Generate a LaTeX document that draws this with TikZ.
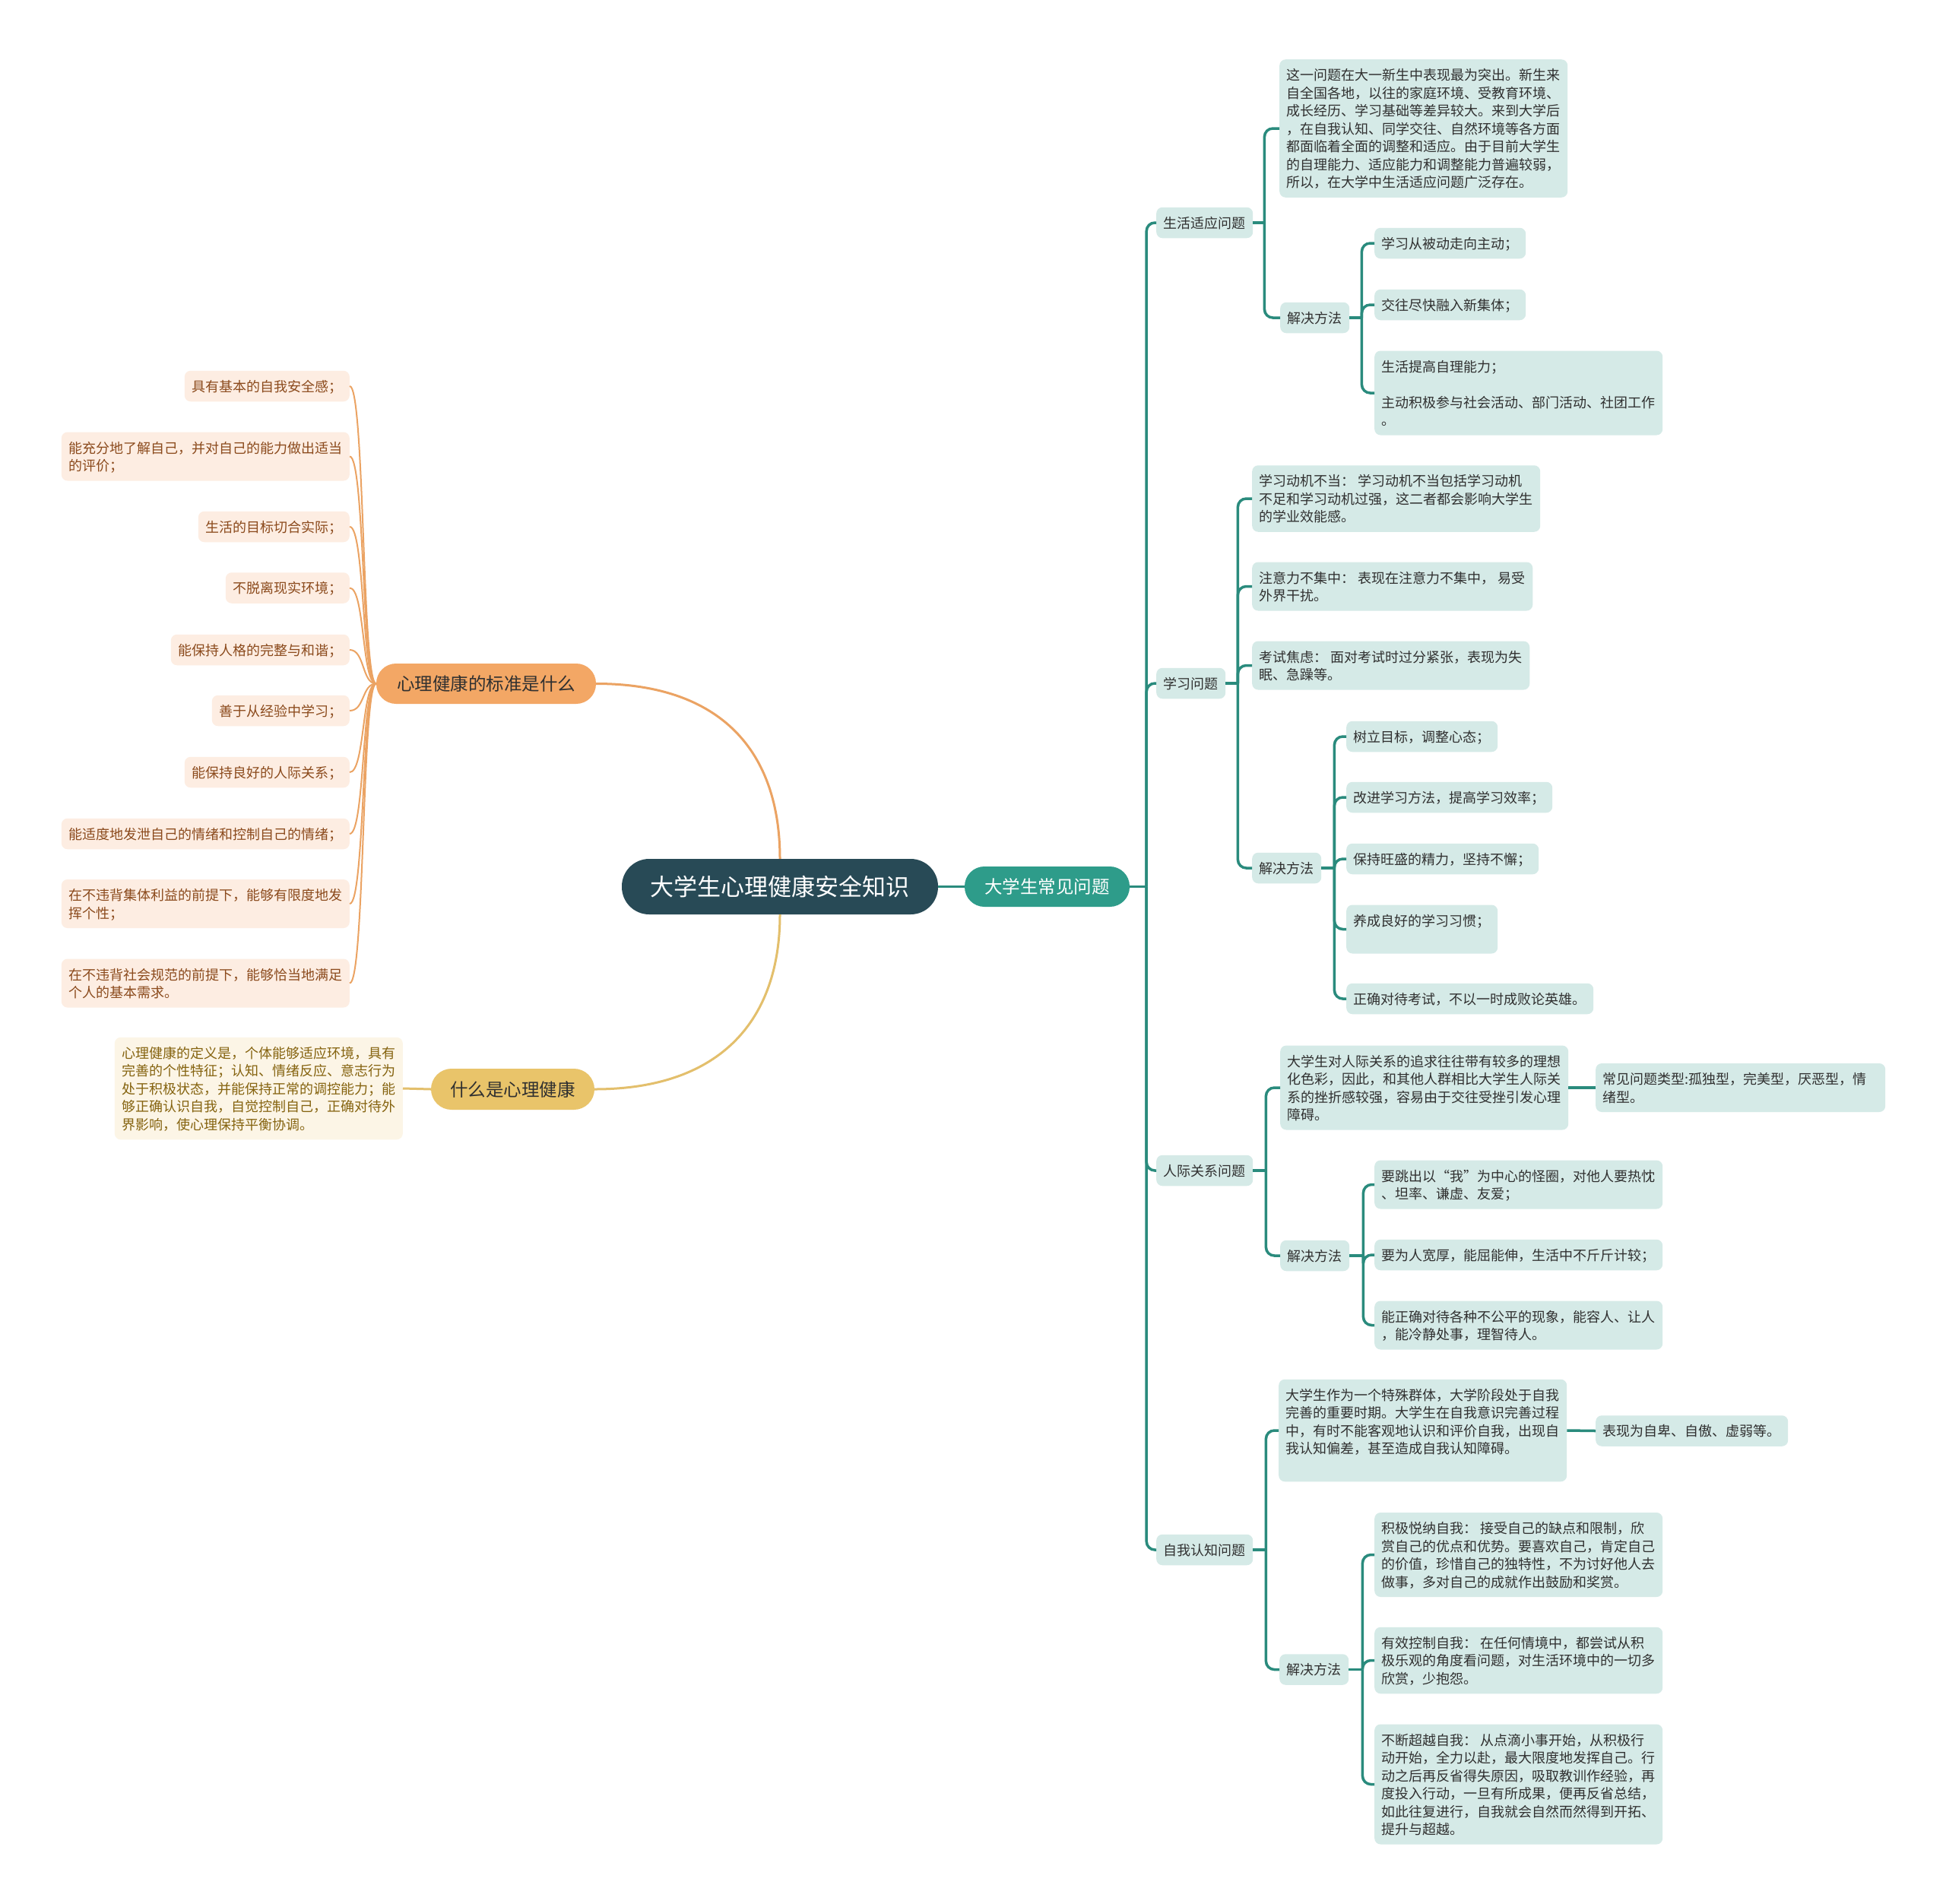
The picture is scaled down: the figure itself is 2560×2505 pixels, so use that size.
\documentclass[tikz,border=0pt]{standalone}
\usepackage{fontspec}
\setmainfont{Noto Sans CJK SC}
\definecolor{cdark}{HTML}{284A56}
\definecolor{cteal}{HTML}{2E9C8A}
\definecolor{cline}{HTML}{2A8B7D}
\definecolor{cleaf}{HTML}{D5EAE7}
\definecolor{ctext}{HTML}{303030}
\definecolor{corange}{HTML}{F3A765}
\definecolor{coline}{HTML}{EBA363}
\definecolor{coleaf}{HTML}{FDEDE2}
\definecolor{cotext}{HTML}{8B4A1C}
\definecolor{cyellow}{HTML}{E9C46A}
\definecolor{cyline}{HTML}{E3BF6C}
\definecolor{cyleaf}{HTML}{FCF5E6}
\definecolor{cytext}{HTML}{85630F}
\newcommand\sst{\rule[-4.5pt]{0pt}{23.5pt}}
\newcommand\lbk{\\\sst}
\tikzset{
  tbox/.style={fill=cleaf, text=ctext, rounded corners=8pt, inner xsep=9.5pt, inner ysep=8.5pt, align=left, font=\fontsize{18}{23.5}\selectfont},
  obox/.style={tbox, fill=coleaf, text=cotext},
  ybox/.style={tbox, fill=cyleaf, text=cytext},
  pill/.style={inner sep=0pt, font=\fontsize{23.5}{28}\selectfont},
  tline/.style={draw=cline, line width=3.5pt},
  tcorner/.style={tline, rounded corners=11pt},
  othin/.style={draw=coline, line width=2pt},
  oline/.style={draw=coline, line width=3pt},
  yline/.style={draw=cyline, line width=3pt}
}
\begin{document}
\begin{tikzpicture}[x=1pt,y=-1pt]
\useasboundingbox[fill=white] (0,0) rectangle (2560,2505);

% ---------- right side ----------
\node[tbox, anchor=west] (l1) at (1521,293) {\sst 生活适应问题};
\node[tbox, anchor=west] (l2) at (1521,899) {\sst 学习问题};
\node[tbox, anchor=west] (l3) at (1521,1540) {\sst 人际关系问题};
\node[tbox, anchor=west] (l4) at (1521,2039) {\sst 自我认知问题};

\node[tbox, anchor=west] (a1) at (1683,169) {\sst 这一问题在大一新生中表现最为突出。新生来\lbk 自全国各地，以往的家庭环境、受教育环境、\lbk 成长经历、学习基础等差异较大。来到大学后\lbk ，在自我认知、同学交往、自然环境等各方面\lbk 都面临着全面的调整和适应。由于目前大学生\lbk 的自理能力、适应能力和调整能力普遍较弱，\lbk 所以，在大学中生活适应问题广泛存在。};
\node[tbox, anchor=west] (a2) at (1684,418) {\sst 解决方法};
\node[tbox, anchor=west] (a21) at (1808,320) {\sst 学习从被动走向主动；};
\node[tbox, anchor=west] (a22) at (1808,401) {\sst 交往尽快融入新集体；};
\node[tbox, anchor=west] (a23) at (1808,517) {\sst 生活提高自理能力；\lbk\lbk 主动积极参与社会活动、部门活动、社团工作\lbk 。};

\node[tbox, anchor=west] (b1) at (1647,656) {\sst 学习动机不当： 学习动机不当包括学习动机\lbk 不足和学习动机过强，这二者都会影响大学生\lbk 的学业效能感。};
\node[tbox, anchor=west] (b2) at (1647,771.5) {\sst 注意力不集中： 表现在注意力不集中， 易受\lbk 外界干扰。};
\node[tbox, anchor=west] (b3) at (1647,875.5) {\sst 考试焦虑： 面对考试时过分紧张，表现为失\lbk 眠、急躁等。};
\node[tbox, anchor=west] (b4) at (1647,1142) {\sst 解决方法};
\node[tbox, anchor=west] (b41) at (1771,969) {\sst 树立目标，调整心态；};
\node[tbox, anchor=west] (b42) at (1771,1049) {\sst 改进学习方法，提高学习效率；};
\node[tbox, anchor=west] (b43) at (1771,1130) {\sst 保持旺盛的精力，坚持不懈；};
\node[tbox, anchor=west] (b44) at (1771,1222.5) {\sst 养成良好的学习习惯；\lbk};
\node[tbox, anchor=west] (b45) at (1771,1314) {\sst 正确对待考试，不以一时成败论英雄。};

\node[tbox, anchor=west] (c1) at (1684,1431) {\sst 大学生对人际关系的追求往往带有较多的理想\lbk 化色彩，因此，和其他人群相比大学生人际关\lbk 系的挫折感较强，容易由于交往受挫引发心理\lbk 障碍。};
\node[tbox, anchor=west, text width=362pt] (c11) at (2099,1431) {\sst 常见问题类型:孤独型，完美型，厌恶型，情\lbk 绪型。};
\node[tbox, anchor=west] (c2) at (1684,1652) {\sst 解决方法};
\node[tbox, anchor=west] (c21) at (1808,1558.5) {\sst 要跳出以“我”为中心的怪圈，对他人要热忱\lbk 、坦率、谦虚、友爱；};
\node[tbox, anchor=west] (c22) at (1808,1651) {\sst 要为人宽厚，能屈能伸，生活中不斤斤计较；};
\node[tbox, anchor=west] (c23) at (1808,1743.5) {\sst 能正确对待各种不公平的现象，能容人、让人\lbk ，能冷静处事，理智待人。};

\node[tbox, anchor=west] (d1) at (1682,1882) {\sst 大学生作为一个特殊群体，大学阶段处于自我\lbk 完善的重要时期。大学生在自我意识完善过程\lbk 中，有时不能客观地认识和评价自我，出现自\lbk 我认知偏差，甚至造成自我认知障碍。\lbk};
\node[tbox, anchor=west] (d11) at (2099,1882.5) {\sst 表现为自卑、自傲、虚弱等。};
\node[tbox, anchor=west] (d2) at (1683,2196.5) {\sst 解决方法};
\node[tbox, anchor=west] (d21) at (1808,2045.5) {\sst 积极悦纳自我： 接受自己的缺点和限制，欣\lbk 赏自己的优点和优势。要喜欢自己，肯定自己\lbk 的价值，珍惜自己的独特性，不为讨好他人去\lbk 做事，多对自己的成就作出鼓励和奖赏。};
\node[tbox, anchor=west] (d22) at (1808,2184.5) {\sst 有效控制自我： 在任何情境中，都尝试从积\lbk 极乐观的角度看问题，对生活环境中的一切多\lbk 欣赏，少抱怨。};
\node[tbox, anchor=west] (d23) at (1808,2347.5) {\sst 不断超越自我： 从点滴小事开始，从积极行\lbk 动开始，全力以赴，最大限度地发挥自己。行\lbk 动之后再反省得失原因，吸取教训作经验，再\lbk 度投入行动，一旦有所成果，便再反省总结，\lbk 如此往复进行，自我就会自然而然得到开拓、\lbk 提升与超越。};

% ---------- central ----------
\node[pill, fill=cdark, text=white, rounded corners=36pt, minimum width=416pt, minimum height=73pt, font=\fontsize{31}{36}\selectfont] (root) at (1026,1166.5) {大学生心理健康安全知识};
\node[pill, fill=cteal, text=white, rounded corners=26pt, minimum width=217pt, minimum height=53pt] (t) at (1377.5,1166.5) {大学生常见问题};
\node[pill, fill=corange, text=ctext, rounded corners=26pt, minimum width=289pt, minimum height=53pt] (o) at (639.5,899.5) {心理健康的标准是什么};
\node[pill, fill=cyellow, text=ctext, rounded corners=27pt, minimum width=215pt, minimum height=54pt] (y) at (674.5,1433) {什么是心理健康};

% ---------- left side ----------
\node[obox, anchor=east] (o1) at (460,508) {\sst 具有基本的自我安全感；};
\node[obox, anchor=east] (o2) at (460,600.5) {\sst 能充分地了解自己，并对自己的能力做出适当\lbk 的评价；};
\node[obox, anchor=east] (o3) at (460,693) {\sst 生活的目标切合实际；};
\node[obox, anchor=east] (o4) at (460,773.5) {\sst 不脱离现实环境；};
\node[obox, anchor=east] (o5) at (460,855) {\sst 能保持人格的完整与和谐；};
\node[obox, anchor=east] (o6) at (460,935) {\sst 善于从经验中学习；};
\node[obox, anchor=east] (o7) at (460,1016) {\sst 能保持良好的人际关系；};
\node[obox, anchor=east] (o8) at (460,1097) {\sst 能适度地发泄自己的情绪和控制自己的情绪；};
\node[obox, anchor=east] (o9) at (460,1189) {\sst 在不违背集体利益的前提下，能够有限度地发\lbk 挥个性；};
\node[obox, anchor=east] (o10) at (460,1293.5) {\sst 在不违背社会规范的前提下，能够恰当地满足\lbk 个人的基本需求。};
\node[ybox, anchor=east] (y1) at (530,1432) {\sst 心理健康的定义是，个体能够适应环境，具有\lbk 完善的个性特征；认知、情绪反应、意志行为\lbk 处于积极状态，并能保持正常的调控能力；能\lbk 够正确认识自我，自觉控制自己，正确对待外\lbk 界影响，使心理保持平衡协调。};

% ---------- connectors ----------
\draw[tline] (root.east) -- (t.west);
\draw[tline] (t.east) -- ++(22,0) coordinate (tk);
\foreach \n in {l1,l2,l3,l4} \draw[tcorner] (tk) |- (\n.west);

\draw[tline] (l1.east) -- ++(15,0) coordinate (k1);
\foreach \n in {a1,a2} \draw[tcorner] (k1) |- (\n.west);
\draw[tline] (a2.east) -- ++(16,0) coordinate (k2);
\foreach \n in {a21,a22,a23} \draw[tcorner] (k2) |- (\n.west);

\draw[tline] (l2.east) -- ++(16,0) coordinate (k3);
\foreach \n in {b1,b2,b3,b4} \draw[tcorner] (k3) |- (\n.west);
\draw[tline] (b4.east) -- ++(17,0) coordinate (k4);
\foreach \n in {b41,b42,b43,b44,b45} \draw[tcorner] (k4) |- (\n.west);

\draw[tline] (l3.east) -- ++(17,0) coordinate (k5);
\foreach \n in {c1,c2} \draw[tcorner] (k5) |- (\n.west);
\draw[tline] (c1.east) -- (c11.west);
\draw[tline] (c2.east) -- ++(18,0) coordinate (k6);
\foreach \n in {c21,c22,c23} \draw[tcorner] (k6) |- (\n.west);

\draw[tline] (l4.east) -- ++(17,0) coordinate (k7);
\foreach \n in {d1,d2} \draw[tcorner] (k7) |- (\n.west);
\draw[tline] (d1.east) -- (d11.west);
\draw[tline] (d2.east) -- ++(18,0) coordinate (k8);
\foreach \n in {d21,d22,d23} \draw[tcorner] (k8) |- (\n.west);

\draw[oline] (o.east) .. controls (950,899.5) and (1026,990) .. (root.north);
\draw[yline] (y.east) .. controls (950,1433) and (1026,1340) .. (root.south);
\draw[yline] (y.west) -- (y1.east);
\foreach \n in {o1,o2,o3,o4,o5,o6,o7,o8,o9,o10}
  \draw[othin] (o.west) .. controls (476,899.5) and (480,0|-\n.east) .. (\n.east);
\end{tikzpicture}
\end{document}
